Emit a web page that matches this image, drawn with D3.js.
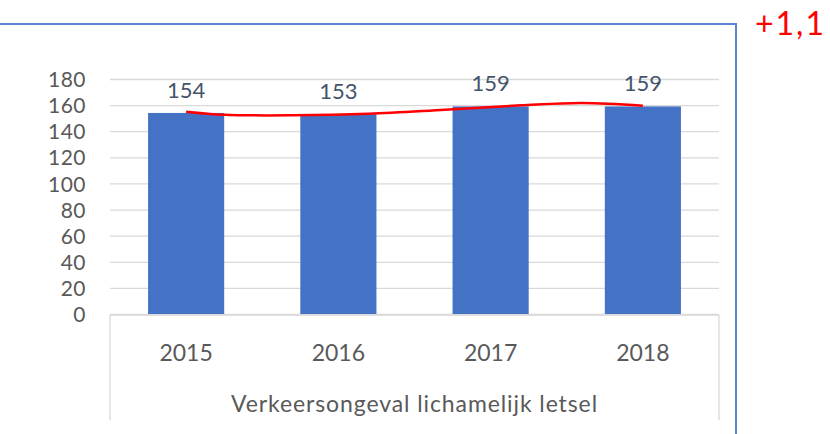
<!DOCTYPE html>
<html>
<head>
<meta charset="utf-8">
<script src="https://cdn.jsdelivr.net/npm/d3@7"></script>
<style>
  body { margin: 0; background: #fff; }
  svg text { font-family: Lato, "Open Sans", sans-serif; }
</style>
</head>
<body>
<div id="chart"></div>
<script>
// data
var years = ["2015", "2016", "2017", "2018"];
var counts = [154, 153, 159, 159];
var yTicks = [0, 20, 40, 60, 80, 100, 120, 140, 160, 180];
var groupLabel = "Verkeersongeval lichamelijk letsel";
var changeLabel = "+1,1";
// hand-drawn red trend line (position in category units, value)
var trendPos = [0, 0.25, 0.7, 1.2, 1.7, 2.2, 2.6, 3];
var trendVal = [155, 152.6, 152.2, 153.4, 156.5, 159.8, 161.6, 159.5];

var svgWidth = 830;
var svgHeight = 434;

var plot = { left: 110, right: 719, top: 79, bottom: 314 };

var svg = d3.select("#chart")
  .append("svg")
  .attr("width", svgWidth)
  .attr("height", svgHeight);

// scales
var xBand = d3.scaleBand()
  .domain(years)
  .range([plot.left, plot.right])
  .paddingInner(0.5)
  .paddingOuter(0.25);

var yLinear = d3.scaleLinear()
  .domain([0, 180])
  .range([plot.bottom, plot.top]);

var xPos = d3.scaleLinear()
  .domain([0, years.length - 1])
  .range([xBand(years[0]) + xBand.bandwidth() / 2, xBand(years[years.length - 1]) + xBand.bandwidth() / 2]);

// gridlines
var grid = svg.append("g")
  .attr("transform", `translate(${plot.left},0)`)
  .call(d3.axisLeft(yLinear).tickValues(yTicks).tickSize(-(plot.right - plot.left)).tickFormat(""));
grid.select(".domain").remove();
grid.selectAll("line").attr("stroke", "#d9d9d9").attr("stroke-width", 1.3);

// y tick labels
var yAxis = svg.append("g")
  .attr("transform", "translate(86,0)")
  .call(d3.axisLeft(yLinear).tickValues(yTicks).tickSize(0).tickPadding(0));
yAxis.select(".domain").remove();
yAxis.selectAll("text")
  .attr("fill", "#595959")
  .style("font-size", "21px")
  .style("letter-spacing", "0.5px")
  .attr("dy", "0.36em");

// bars
svg.selectAll("rect.bar")
  .data(counts)
  .enter()
  .append("rect")
  .attr("class", "bar")
  .attr("x", (d, i) => xBand(years[i]))
  .attr("y", d => yLinear(d))
  .attr("width", xBand.bandwidth())
  .attr("height", d => yLinear(0) - yLinear(d))
  .attr("fill", "#4472c4");

// data labels
svg.selectAll("text.val")
  .data(counts)
  .enter()
  .append("text")
  .attr("class", "val")
  .attr("x", (d, i) => xBand(years[i]) + xBand.bandwidth() / 2)
  .attr("y", d => yLinear(d) - 15)
  .attr("text-anchor", "middle")
  .attr("fill", "#44546a")
  .style("font-size", "22px")
  .text(d => d);

// category axis box
var axisY = plot.bottom + 1;
svg.append("line")
  .attr("x1", plot.left).attr("x2", plot.right)
  .attr("y1", axisY).attr("y2", axisY)
  .attr("stroke", "#d9d9d9").attr("stroke-width", 1.3);
[plot.left, plot.right].forEach(function(x) {
  svg.append("line")
    .attr("x1", x).attr("x2", x)
    .attr("y1", axisY).attr("y2", 420)
    .attr("stroke", "#d9d9d9").attr("stroke-width", 1.3);
});

var xAxis = svg.append("g")
  .attr("transform", `translate(0,${axisY})`)
  .call(d3.axisBottom(xBand).tickSize(0).tickPadding(0));
xAxis.select(".domain").remove();
xAxis.selectAll("text")
  .attr("fill", "#595959")
  .attr("y", 46)
  .attr("dy", 0)
  .style("font-size", "23px");

svg.append("text")
  .attr("x", (plot.left + plot.right) / 2)
  .attr("y", 412)
  .attr("text-anchor", "middle")
  .attr("fill", "#595959")
  .style("font-size", "23px")
  .style("letter-spacing", "0.9px")
  .text(groupLabel);

// red trend line
var trendLine = d3.line()
  .x(d => xPos(d[0]))
  .y(d => yLinear(d[1]))
  .curve(d3.curveCatmullRom);
svg.append("path")
  .datum(trendPos.map((p, i) => [p, trendVal[i]]))
  .attr("d", trendLine)
  .attr("fill", "none")
  .attr("stroke", "#ff0000")
  .attr("stroke-width", 2.5);

// blue frame (partial)
svg.append("path")
  .attr("d", `M0,24 H736 V${svgHeight}`)
  .attr("fill", "none")
  .attr("stroke", "#5b87d2")
  .attr("stroke-width", 2);

svg.append("text")
  .attr("x", 755)
  .attr("y", 35)
  .attr("fill", "#ff0000")
  .style("font-size", "32px")
  .style("letter-spacing", "2px")
  .text(changeLabel);
</script>
</body>
</html>
